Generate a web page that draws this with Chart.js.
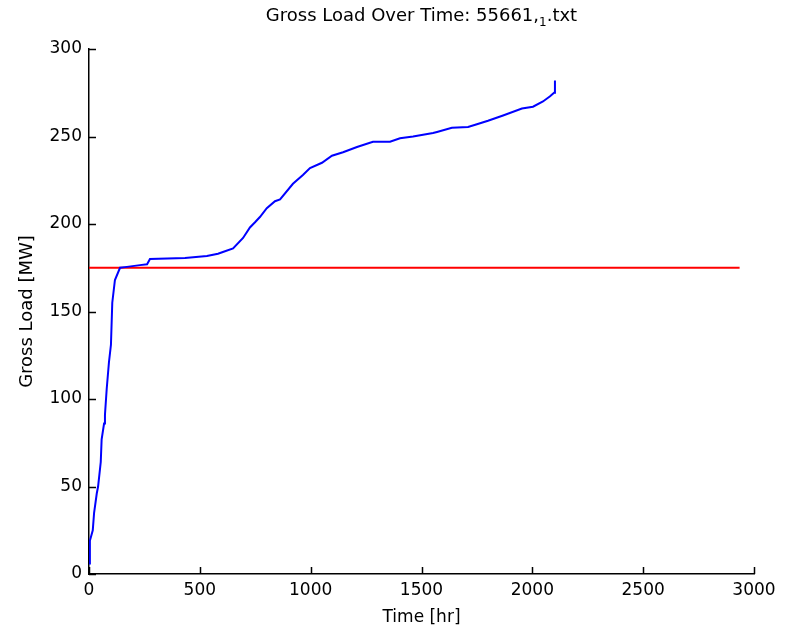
<!DOCTYPE html>
<html>
<head>
<meta charset="utf-8">
<script src="https://cdn.jsdelivr.net/npm/chart.js@4.4.0/dist/chart.umd.min.js"></script>
<style>
  body { margin: 0; background: #fff; }
  #wrap { width: 790px; height: 629px; }
</style>
</head>
<body>
<div id="wrap"><canvas id="LoadChart" width="790" height="629"></canvas></div>
<script>
// gross load curve
const timeHr = [0, 4, 17, 23, 35, 41, 53, 57, 68, 72, 80, 90, 99, 105, 117, 140, 171, 230, 262, 275,
    433, 532, 582, 604, 650, 695, 726, 749, 771, 802, 839, 862, 920, 965, 997, 1051, 1096, 1146, 1209, 1281,
    1358, 1403, 1462, 1552, 1570, 1637, 1710, 1750, 1800, 1868, 1953, 2003, 2048, 2080, 2098, 2102];
const grossLoad = [6, 19, 25, 35, 46, 50, 64, 77, 86, 91, 106, 121, 131, 155, 168, 175, 175.5, 176.5, 177, 180,
    180.6, 181.7, 183, 184, 186, 192, 198, 201, 204, 209, 213, 214, 223, 228, 232, 235, 239, 241, 244, 247,
    247, 249, 250, 252, 252.6, 255, 255.4, 257, 259, 262, 266, 267, 270, 273, 275, 282];

// threshold line
const limitTime = [0, 2935];
const limitLoad = [175, 175];

const xTicks = [0, 500, 1000, 1500, 2000, 2500, 3000];
const yTicks = [0, 50, 100, 150, 200, 250, 300];

const titleText = 'Gross Load Over Time: 55661,';
const titleSub = '1';
const titleEnd = '.txt';

const font = '"DejaVu Sans", "Liberation Sans", sans-serif';

// matlab style: ticks point into the plot, title with a subscript
const matlabLook = {
    id: 'matlabLook',
    afterDraw(chart) {
        const ctx = chart.ctx;
        const area = chart.chartArea;
        const xs = chart.scales.x, ys = chart.scales.y;
        ctx.save();
        ctx.strokeStyle = '#000';
        ctx.lineWidth = 1.5;
        ctx.beginPath();
        xTicks.forEach(v => {
            const px = Math.round(xs.getPixelForValue(v)) + 0.5;
            ctx.moveTo(px, area.bottom);
            ctx.lineTo(px, area.bottom - 7);
        });
        yTicks.forEach(v => {
            const py = Math.round(ys.getPixelForValue(v)) + 0.5;
            ctx.moveTo(area.left, py);
            ctx.lineTo(area.left + 7, py);
        });
        ctx.stroke();

        ctx.fillStyle = '#000';
        ctx.textBaseline = 'alphabetic';
        ctx.font = '18px ' + font;
        const w1 = ctx.measureText(titleText).width;
        ctx.font = '12px ' + font;
        const w2 = ctx.measureText(titleSub).width;
        ctx.font = '18px ' + font;
        const w3 = ctx.measureText(titleEnd).width;
        let x = (area.left + area.right) / 2 - (w1 + w2 + w3) / 2;
        const base = 21;
        ctx.fillText(titleText, x, base);
        x += w1;
        ctx.font = '12px ' + font;
        ctx.fillText(titleSub, x, base + 5);
        x += w2;
        ctx.font = '18px ' + font;
        ctx.fillText(titleEnd, x, base);
        ctx.restore();
    }
};

new Chart(document.getElementById('LoadChart').getContext('2d'), {
    type: 'scatter',
    data: {
        datasets: [{
            label: 'Gross Load',
            data: timeHr.map((t, i) => ({ x: t, y: grossLoad[i] })),
            showLine: true,
            borderColor: '#0000ff',
            borderWidth: 2,
            pointRadius: 0,
            tension: 0
        }, {
            label: 'Limit',
            data: limitTime.map((t, i) => ({ x: t, y: limitLoad[i] })),
            showLine: true,
            borderColor: '#ff0000',
            borderWidth: 2,
            pointRadius: 0
        }]
    },
    options: {
        responsive: false,
        animation: false,
        layout: { padding: { top: 49, right: 36, left: 17, bottom: 0 } },
        plugins: {
            legend: { display: false },
            tooltip: { enabled: false }
        },
        scales: {
            x: {
                type: 'linear',
                min: 0,
                max: 3000,
                afterBuildTicks: s => { s.ticks = xTicks.map(v => ({ value: v })); },
                afterFit: s => { s.height = 55; },
                grid: { display: false, drawTicks: false },
                border: { display: true, color: '#000', width: 1.5 },
                ticks: { color: '#000', padding: 6, font: { family: font, size: 17 }, maxRotation: 0, callback: v => String(v) },
                title: { display: true, text: 'Time [hr]', color: '#000', padding: { top: 4, bottom: 1 }, font: { family: font, size: 17 } }
            },
            y: {
                min: 0,
                max: 300,
                afterBuildTicks: s => { s.ticks = yTicks.map(v => ({ value: v })); },
                afterFit: s => { s.width = 72; },
                grid: { display: false, drawTicks: false },
                border: { display: true, color: '#000', width: 1.5 },
                ticks: { color: '#000', padding: 7, font: { family: font, size: 17 }, callback: v => String(v) },
                title: { display: true, text: 'Gross Load [MW]', color: '#000', padding: { top: 0, bottom: 0 }, font: { family: font, size: 18 } }
            }
        }
    },
    plugins: [matlabLook]
});
</script>
</body>
</html>
